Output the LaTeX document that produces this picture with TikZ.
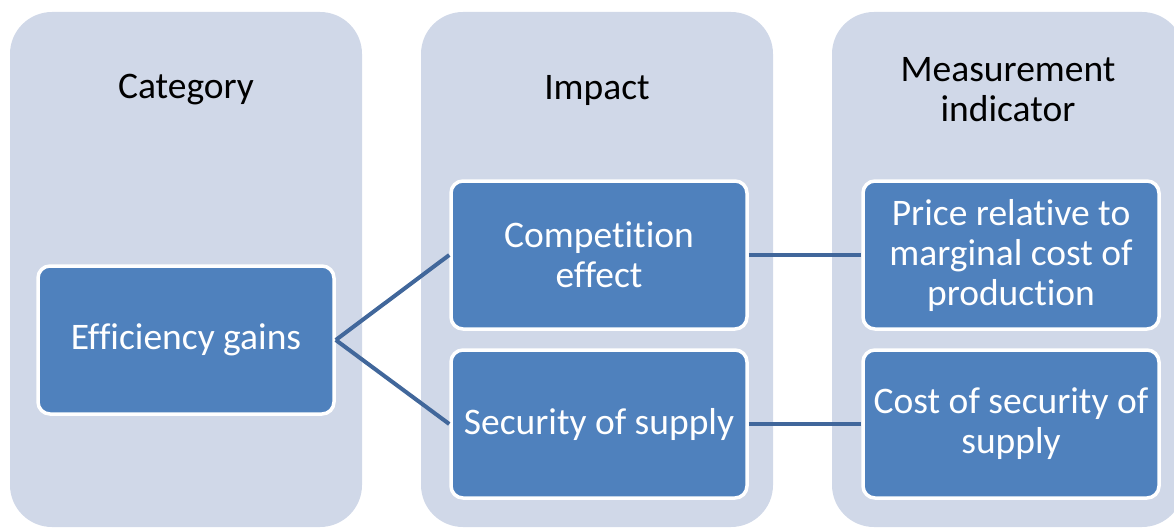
\documentclass[tikz,border=0pt]{standalone}
\usepackage{fontspec}
\setmainfont[Ligatures=NoCommon]{Carlito}
\definecolor{colbg}{HTML}{D0D8E8}
\definecolor{boxfill}{HTML}{4F81BD}
\definecolor{linkc}{HTML}{41679B}
\begin{document}
\begin{tikzpicture}[x=1pt,y=-1pt,
  column/.style={fill=colbg, rounded corners=42pt},
  itembox/.style={draw=white, line width=3.5pt, fill=boxfill, rounded corners=12pt,
    minimum width=296pt, minimum height=148pt, text=white, align=center,
    font=\fontsize{37.5}{40}\selectfont, inner sep=1pt},
  header/.style={text=black, align=center, font=\fontsize{37.5}{40}\selectfont},
  link/.style={draw=linkc, line width=4pt}]
\useasboundingbox (0,0) rectangle (1174,527);
\clip (0,0) rectangle (1174,527);
\fill[column] (10,12) rectangle (362,527);
\fill[column] (421,12) rectangle (773,527);
\fill[column] (832,12) rectangle (1184,527);
\node[header] (h1) at (186,90) {Category};
\node[header] (h2) at (597,90) {Impact};
\node[header] (h3) at (1008,90) {Measurement\\indicator};
\node[itembox] (eff) at (186,340) {Efficiency gains};
\node[itembox] (comp) at (599,255) {Competition\\effect};
\node[itembox] (sec) at (599,424) {Security of supply};
\node[itembox] (price) at (1011,255) {Price relative to\\marginal cost of\\production};
\node[itembox] (cost) at (1011,424) {Cost of security of\\supply};
\draw[link] (eff.east) -- (comp.west);
\draw[link] (eff.east) -- (sec.west);
\draw[link] (comp.east) -- (price.west);
\draw[link] (sec.east) -- (cost.west);
\end{tikzpicture}
\end{document}
